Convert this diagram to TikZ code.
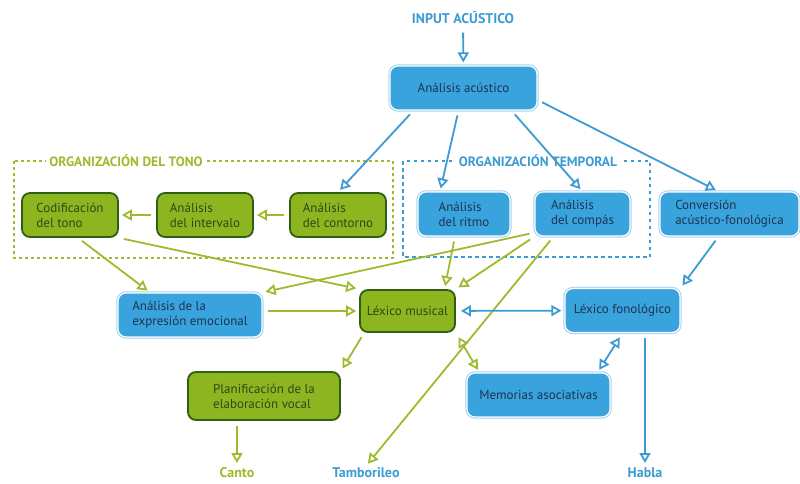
\documentclass[tikz,border=0pt]{standalone}
\usepackage{fontspec}
\setmainfont{PT Sans}
\usetikzlibrary{arrows.meta}
\definecolor{boxblue}{HTML}{38A3DC}
\definecolor{lineblue}{HTML}{3B9BD2}
\definecolor{rimblue}{HTML}{A9D3EE}
\definecolor{textblue}{HTML}{1F3352}
\definecolor{boxgreen}{HTML}{8CB51F}
\definecolor{rimgreen}{HTML}{2F5F12}
\definecolor{linegreen}{HTML}{9CBB2E}
\definecolor{textgreen}{HTML}{33461A}
\tikzset{
	box/.style={rounded corners=8pt, minimum height=44pt, inner xsep=6pt, align=left,
			font=\fontsize{13}{15}\selectfont},
	bluebox/.style={box, fill=boxblue, draw=white, line width=1.2pt, text=textblue,
			preaction={draw=rimblue, line width=3.4pt}},
	greenbox/.style={box, fill=boxgreen, draw=rimgreen, line width=1.8pt, text=textgreen},
	link/.style={line width=1.8pt, shorten <=5pt, shorten >=3pt},
	bluearrow/.style={link, draw=lineblue},
	greenarrow/.style={link, draw=linegreen},
	grouplabel/.style={fill=white, inner xsep=3pt, font=\bfseries\fontsize{13.5}{16}\selectfont},
	endlabel/.style={anchor=north, inner sep=1pt, font=\bfseries\fontsize{14}{16}\selectfont}
}

\begin{document}
\begin{tikzpicture}[x=1pt, y=-1pt, >={Triangle[open, length=10pt, width=11pt]}]
	\useasboundingbox (0, 0) rectangle (800, 483);
	\draw[linegreen, line width=1.4pt, dash pattern=on 3pt off 3pt] (14, 161) rectangle (393, 258);
	\draw[lineblue, line width=1.4pt, dash pattern=on 3.5pt off 3.5pt] (403, 161) rectangle (650, 257);
	\node[grouplabel, text=linegreen] (tonolabel) at (126, 161) {ORGANIZACIÓN DEL TONO};
	\node[grouplabel, text=lineblue] (temporallabel) at (538, 161) {ORGANIZACIÓN TEMPORAL};

	\node[font=\bfseries\fontsize{14}{16}\selectfont, text=lineblue] (input) at (463, 18) {INPUT ACÚSTICO};
	\node[bluebox, minimum width=147pt, align=center] (acust) at (463.5, 88) {Análisis acústico};
	\node[greenbox, minimum width=96pt] (codif) at (70, 215) {Codificación\\del tono};
	\node[greenbox, minimum width=96pt] (interv) at (205, 215) {Análisis\\del intervalo};
	\node[greenbox, minimum width=96pt] (contorno) at (338, 215) {Análisis\\del contorno};
	\node[bluebox, minimum width=92pt] (ritmo) at (464, 214) {Análisis\\del ritmo};
	\node[bluebox, minimum width=95pt] (compas) at (582.5, 214) {Análisis\\del compás};
	\node[bluebox, minimum width=139pt] (conv) at (729.5, 214) {Conversión\\acústico-fonológica};
	\node[bluebox, minimum width=144pt] (emoc) at (190, 315) {Análisis de la\\expresión emocional};
	\node[greenbox, minimum width=95pt, minimum height=42pt, align=center] (lexmus) at (407.5, 311) {Léxico musical};
	\node[bluebox, minimum width=115pt, align=center] (lexfon) at (622.5, 310.5) {Léxico fonológico};
	\node[bluebox, minimum width=143pt, align=center] (mem) at (538.5, 395) {Memorias asociativas};
	\node[greenbox, minimum width=152pt, minimum height=48pt] (planif) at (264, 396) {Planificación de la\\elaboración vocal};
	\node[endlabel, text=linegreen] (canto) at (237, 466) {Canto};
	\node[endlabel, text=lineblue] (tambor) at (366, 466) {Tamborileo};
	\node[endlabel, text=lineblue] (habla) at (645, 466) {Habla};

	\draw[bluearrow, ->] (input) -- (acust);
	\draw[bluearrow, ->] ([xshift=24pt]acust.south west) -- (contorno.north);
	\draw[bluearrow, ->] ([xshift=-5pt]acust.south) -- ([xshift=-24pt]ritmo.north);
	\draw[bluearrow, ->] ([xshift=48pt]acust.south) -- (compas.north);
	\draw[bluearrow, ->] ([yshift=-12pt]acust.east) -- ([xshift=-11pt]conv.north);
	\draw[greenarrow, ->] (contorno) -- (interv);
	\draw[greenarrow, ->] (interv) -- (codif);
	\draw[greenarrow, ->] ([xshift=8pt]codif.south) -- ([xshift=-40pt]emoc.north);
	\draw[greenarrow, ->] (codif.south east) -- (lexmus.north west);
	\draw[greenarrow, ->] ([xshift=-9pt]ritmo.south) -- ([xshift=37pt]lexmus.north);
	\draw[greenarrow, ->] (compas.south west) -- (lexmus.north east);
	\draw[greenarrow, ->] ([yshift=4pt]compas.south west) -- (emoc.north east);
	\draw[greenarrow, ->] ([xshift=-29pt]compas.south) -- (tambor.north);
	\draw[bluearrow, ->] ([xshift=-11pt]conv.south) -- (lexfon.north east);
	\draw[greenarrow, ->] (emoc.east |- lexmus.west) -- (lexmus.west);
	\draw[bluearrow, <->] (lexmus) -- (lexfon);
	\draw[greenarrow, <->] (lexmus.south east) -- ([xshift=13pt]mem.north west);
	\draw[bluearrow, <->] (lexfon.south) -- ([xshift=-13pt]mem.north east);
	\draw[greenarrow, ->] ([xshift=5pt]lexmus.south west) -- (planif.north east);
	\draw[greenarrow, ->] (canto |- planif.south) -- (canto);
	\draw[bluearrow, ->] (habla |- lexfon.south) -- (habla);
\end{tikzpicture}
\end{document}
